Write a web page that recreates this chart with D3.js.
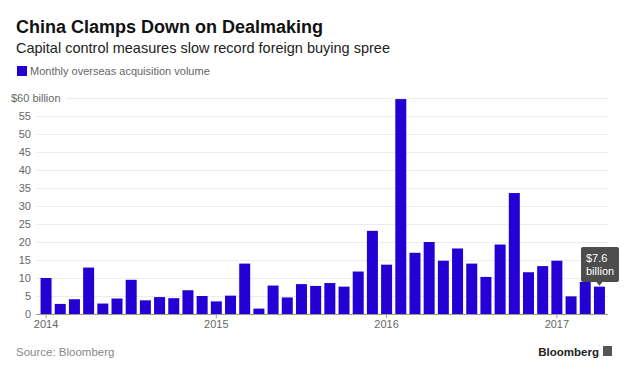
<!DOCTYPE html>
<html lang="en">
<head>
  <meta charset="UTF-8">
  <title>China Clamps Down on Dealmaking</title>
  <style>
    body { margin: 0; background: #fff; }
    svg { display: block; font-family: "Liberation Sans", Arial, sans-serif; }
    .grid line { stroke: #ececec; stroke-width: 1; }
    .tick-label { font-size: 11px; fill: #666; }
  </style>
</head>
<body>
<svg width="630" height="375"></svg>

<script src="https://d3js.org/d3.v7.min.js"></script>
<script>
  // monthly overseas acquisition volume, Jan 2014 .. Apr 2017 ($ billion)
  const months = d3.range(40).map(i => new Date(2014, i, 1));
  const volumes = [
    10.0, 2.8, 4.1, 12.9, 2.9, 4.3, 9.5, 3.8, 4.7, 4.4, 6.6, 5.0,
    3.5, 5.1, 14.0, 1.5, 7.9, 4.6, 8.3, 7.8, 8.6, 7.6, 11.8, 23.1,
    13.7, 59.7, 17.0, 20.0, 14.8, 18.2, 14.0, 10.3, 19.3, 33.6, 11.6, 13.3,
    14.8, 4.9, 8.9, 7.6
  ];
  const yTicks = [0, 5, 10, 15, 20, 25, 30, 35, 40, 45, 50, 55, 60];
  const yearLabels = ["2014", "2015", "2016", "2017"];

  const svg = d3.select("svg");
  const barColor = "#2500d4";

  const x = d3.scaleBand()
    .domain(months.map((d, i) => i))
    .range([39, 606.5])
    .paddingInner(0.225)
    .paddingOuter(0.11);

  const y = d3.scaleLinear().domain([0, 60]).range([314, 98]);

  // titres
  svg.append("text")
    .attr("x", 16).attr("y", 33)
    .attr("font-size", "18px").attr("font-weight", "bold").attr("fill", "#111")
    .text("China Clamps Down on Dealmaking");

  svg.append("text")
    .attr("x", 16).attr("y", 53)
    .attr("font-size", "14.5px").attr("fill", "#222")
    .text("Capital control measures slow record foreign buying spree");

  // legende
  svg.append("rect")
    .attr("x", 17).attr("y", 66).attr("width", 10).attr("height", 10)
    .attr("fill", barColor);
  svg.append("text")
    .attr("x", 30).attr("y", 75)
    .attr("font-size", "11px").attr("fill", "#666")
    .text("Monthly overseas acquisition volume");

  // grille
  const grid = svg.append("g").attr("class", "grid");
  grid.selectAll("line")
    .data(yTicks.filter(t => t > 0))
    .join("line")
    .attr("x1", t => t === 60 ? 66 : 36)
    .attr("x2", 608)
    .attr("y1", t => Math.round(y(t)) + 0.5)
    .attr("y2", t => Math.round(y(t)) + 0.5);

  // axe y
  svg.append("g").selectAll("text")
    .data(yTicks)
    .join("text")
    .attr("class", "tick-label")
    .attr("x", t => t === 60 ? 11 : 31)
    .attr("y", t => y(t) + 4)
    .attr("text-anchor", t => t === 60 ? "start" : "end")
    .text(t => t === 60 ? "$60 billion" : t);

  // barres
  svg.append("g").selectAll("rect")
    .data(volumes)
    .join("rect")
    .attr("x", (d, i) => x(i))
    .attr("width", x.bandwidth())
    .attr("y", d => y(d))
    .attr("height", d => y(0) - y(d))
    .attr("fill", barColor);

  // axe x
  svg.append("line")
    .attr("x1", 36).attr("x2", 608)
    .attr("y1", y(0) + 0.5).attr("y2", y(0) + 0.5)
    .attr("stroke", "#999");

  const xAxis = svg.append("g");
  yearLabels.forEach((lab, k) => {
    const cx = x(k * 12) + x.bandwidth() / 2;
    xAxis.append("line")
      .attr("x1", cx).attr("x2", cx)
      .attr("y1", y(0)).attr("y2", y(0) + 4)
      .attr("stroke", "#999");
    xAxis.append("text")
      .attr("class", "tick-label")
      .attr("x", cx).attr("y", 328)
      .attr("text-anchor", "middle")
      .text(lab);
  });

  // annotation derniere barre
  const last = volumes.length - 1;
  const ax = x(last) + x.bandwidth() / 2;
  const ann = svg.append("g");
  ann.append("rect")
    .attr("x", 581).attr("y", 247).attr("width", 38).attr("height", 35)
    .attr("rx", 2)
    .attr("fill", "#4d4d4d");
  ann.append("path")
    .attr("d", `M${ax - 3},282 L${ax + 3},282 L${ax},${y(volumes[last]) - 1} Z`)
    .attr("fill", "#4d4d4d");
  ann.append("text")
    .attr("x", 586).attr("y", 262)
    .attr("font-size", "11px").attr("fill", "#fff")
    .text("$7.6");
  ann.append("text")
    .attr("x", 586).attr("y", 275)
    .attr("font-size", "11px").attr("fill", "#fff")
    .text("billion");

  // pied
  svg.append("text")
    .attr("x", 16).attr("y", 356)
    .attr("font-size", "11.5px").attr("fill", "#888")
    .text("Source: Bloomberg");

  svg.append("text")
    .attr("x", 599).attr("y", 356)
    .attr("text-anchor", "end")
    .attr("font-size", "11.5px").attr("font-weight", "bold").attr("fill", "#222")
    .text("Bloomberg");
  svg.append("rect")
    .attr("x", 603).attr("y", 346).attr("width", 9).attr("height", 10)
    .attr("fill", "#555");
</script>
</body>
</html>
